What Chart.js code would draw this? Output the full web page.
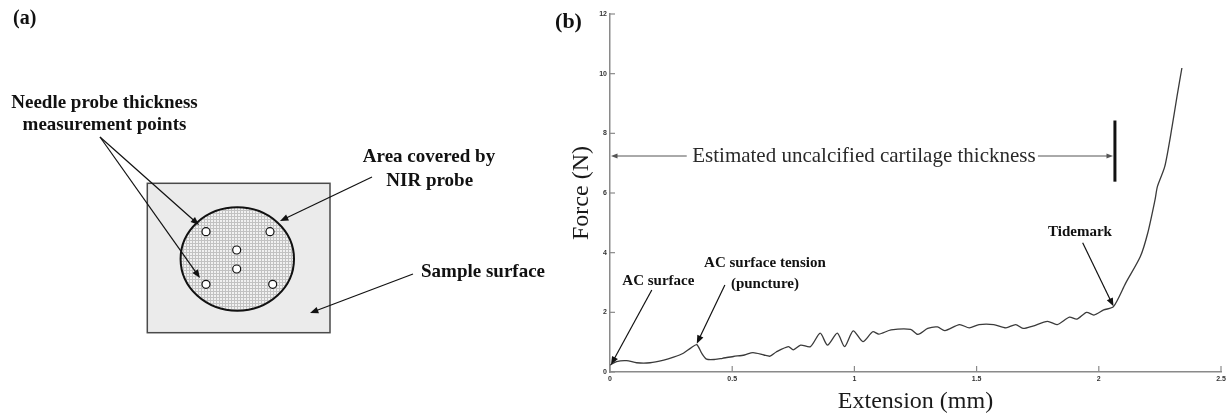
<!DOCTYPE html>
<html>
<head>
<meta charset="utf-8">
<script src="https://cdn.jsdelivr.net/npm/chart.js@4.4.1/dist/chart.umd.min.js"></script>
<style>
  html, body { margin: 0; padding: 0; background: #fff; }
  #wrap { position: relative; width: 1231px; height: 418px; overflow: hidden; }
  #panelA { position: absolute; left: 0; top: 0; }
  #panelB { position: absolute; left: 540px; top: 0; }
</style>
</head>
<body>
<div id="wrap">
  <canvas id="panelA" width="580" height="418"></canvas>
  <canvas id="panelB" width="691" height="418"></canvas>
</div>
<script>
// ---- panel (b) data : needle probe force vs extension ----
const extension = [0, 0.027, 0.068, 0.109, 0.164, 0.22, 0.26, 0.30, 0.33, 0.355, 0.375, 0.395, 0.43, 0.46,
  0.505, 0.55, 0.585, 0.63, 0.655, 0.68, 0.73, 0.75, 0.78, 0.82, 0.86, 0.89, 0.93, 0.96, 0.995, 1.035,
  1.075, 1.10, 1.15, 1.23, 1.26, 1.30, 1.34, 1.37, 1.43, 1.47, 1.51, 1.57, 1.62, 1.66, 1.69, 1.73, 1.79,
  1.83, 1.88, 1.91, 1.95, 1.98, 2.02, 2.06, 2.11, 2.17, 2.20, 2.23, 2.24, 2.27, 2.30, 2.32, 2.34];
const force = [0.23, 0.35, 0.38, 0.31, 0.31, 0.40, 0.50, 0.63, 0.80, 0.92, 0.63, 0.43, 0.42, 0.46,
  0.52, 0.57, 0.65, 0.57, 0.53, 0.67, 0.85, 0.74, 0.90, 0.85, 1.30, 0.90, 1.30, 0.85, 1.38, 1.02,
  1.35, 1.27, 1.41, 1.43, 1.26, 1.46, 1.51, 1.39, 1.59, 1.48, 1.59, 1.59, 1.48, 1.59, 1.46, 1.54, 1.70,
  1.59, 1.84, 1.77, 2.00, 1.91, 2.08, 2.19, 2.98, 3.87, 4.65, 5.77, 6.22, 6.89, 8.23, 9.24, 10.19];
const xTickValues = [0, 0.5, 1, 1.5, 2, 2.5];
const yTickValues = [0, 2, 4, 6, 8, 10, 12];

// ---- panel (a) : needle probe measurement points inside the NIR probe area ----
const probeX = [206, 270, 236.7, 236.7, 206, 272.7];
const probeY = [231.7, 231.7, 250, 269, 284.3, 284.3];

const serif = '"Liberation Serif", "Times New Roman", serif';
const sans = '"Liberation Sans", Arial, sans-serif';

function arrow(ctx, x1, y1, x2, y2, color, width, head) {
  const a = Math.atan2(y2 - y1, x2 - x1);
  const sp = 0.38;
  ctx.save();
  ctx.strokeStyle = color; ctx.fillStyle = color; ctx.lineWidth = width;
  ctx.beginPath();
  ctx.moveTo(x1, y1);
  ctx.lineTo(x2 - Math.cos(a) * head * 0.7, y2 - Math.sin(a) * head * 0.7);
  ctx.stroke();
  ctx.beginPath();
  ctx.moveTo(x2, y2);
  ctx.lineTo(x2 - head * Math.cos(a - sp), y2 - head * Math.sin(a - sp));
  ctx.lineTo(x2 - head * Math.cos(a + sp), y2 - head * Math.sin(a + sp));
  ctx.closePath();
  ctx.fill();
  ctx.restore();
}

function label(ctx, text, x, y, font, color, align) {
  ctx.save();
  ctx.font = font;
  ctx.fillStyle = color || '#111';
  ctx.textAlign = align || 'center';
  ctx.textBaseline = 'middle';
  ctx.fillText(text, x, y);
  ctx.restore();
}

function hatch(ctx) {
  const c = document.createElement('canvas');
  c.width = 3; c.height = 3;
  const g = c.getContext('2d');
  g.fillStyle = '#f1f1f1'; g.fillRect(0, 0, 3, 3);
  g.fillStyle = '#c2c2c2'; g.fillRect(0, 0, 3, 1); g.fillRect(0, 0, 1, 3);
  return ctx.createPattern(c, 'repeat');
}

// ---- panel (a) drawing ----
const diagram = {
  id: 'diagram',
  beforeDatasetsDraw(chart) {
    const { ctx, scales: { x, y } } = chart;
    const X = v => x.getPixelForValue(v), Y = v => y.getPixelForValue(v);
    ctx.save();
    // sample surface
    ctx.fillStyle = '#ebebeb';
    ctx.fillRect(X(147.3), Y(183.3), X(330) - X(147.3), Y(332.7) - Y(183.3));
    ctx.strokeStyle = '#4a4a4a'; ctx.lineWidth = 1.5;
    ctx.strokeRect(X(147.3), Y(183.3), X(330) - X(147.3), Y(332.7) - Y(183.3));
    // NIR probe area
    ctx.beginPath();
    ctx.ellipse(X(237.3), Y(259), 56.7, 51.7, 0, 0, Math.PI * 2);
    ctx.fillStyle = hatch(ctx);
    ctx.fill();
    ctx.strokeStyle = '#111'; ctx.lineWidth = 2;
    ctx.stroke();
    ctx.restore();
  },
  afterDatasetsDraw(chart) {
    const { ctx, scales: { x, y } } = chart;
    const X = v => x.getPixelForValue(v), Y = v => y.getPixelForValue(v);
    const bold = 'bold 19px ' + serif;
    label(ctx, '(a)', X(13), Y(19), 'bold 20px ' + serif, '#111', 'left');
    label(ctx, 'Needle probe thickness', X(104.5), Y(103), bold);
    label(ctx, 'measurement points', X(104.5), Y(125), bold);
    label(ctx, 'Area covered by', X(429), Y(157), bold);
    label(ctx, 'NIR probe', X(429.7), Y(181.5), bold);
    label(ctx, 'Sample surface', X(421), Y(272), bold, '#111', 'left');
    arrow(ctx, X(100), Y(137), X(199), Y(225), '#111', 1.2, 9);
    arrow(ctx, X(100), Y(137), X(200), Y(278), '#111', 1.2, 9);
    arrow(ctx, X(372), Y(177), X(280), Y(221), '#111', 1.2, 9);
    arrow(ctx, X(413), Y(274), X(310), Y(313), '#111', 1.2, 9);
  }
};

new Chart(document.getElementById('panelA'), {
  type: 'scatter',
  data: {
    datasets: [{
      data: probeX.map((v, i) => ({ x: v, y: probeY[i] })),
      pointRadius: 4,
      pointBackgroundColor: '#fff',
      pointBorderColor: '#111',
      pointBorderWidth: 1.2
    }]
  },
  options: {
    responsive: false,
    animation: false,
    devicePixelRatio: 1,
    layout: { padding: 0, autoPadding: false },
    scales: {
      x: { type: 'linear', min: 0, max: 580, display: false },
      y: { type: 'linear', min: 0, max: 418, reverse: true, display: false }
    },
    plugins: { legend: { display: false }, tooltip: { enabled: false } }
  },
  plugins: [diagram]
});

// ---- panel (b) annotations ----
const curveNotes = {
  id: 'curveNotes',
  afterDatasetsDraw(chart) {
    const { ctx, scales: { x, y } } = chart;
    const X = v => x.getPixelForValue(v), Y = v => y.getPixelForValue(v);
    // inward tick marks
    ctx.save();
    ctx.strokeStyle = '#8a8a8a'; ctx.lineWidth = 1.2;
    y.ticks.forEach(t => {
      ctx.beginPath(); ctx.moveTo(X(0), Y(t.value)); ctx.lineTo(X(0) + 5, Y(t.value)); ctx.stroke();
    });
    x.ticks.forEach(t => {
      ctx.beginPath(); ctx.moveTo(X(t.value), Y(0)); ctx.lineTo(X(t.value), Y(0) - 6); ctx.stroke();
    });
    ctx.restore();

    label(ctx, '(b)', 28.5, 22, 'bold 22px ' + serif);
    const note = 'bold 15px ' + serif;
    label(ctx, 'AC surface', X(0.198), Y(3.06), note);
    arrow(ctx, X(0.171), Y(2.75), X(0.004), Y(0.24), '#111', 1.2, 9);
    label(ctx, 'AC surface tension', X(0.634), Y(3.64), note);
    label(ctx, '(puncture)', X(0.634), Y(2.94), note);
    arrow(ctx, X(0.47), Y(2.92), X(0.355), Y(0.95), '#111', 1.2, 9);
    label(ctx, 'Tidemark', X(1.923), Y(4.68), note);
    arrow(ctx, X(1.934), Y(4.33), X(2.06), Y(2.2), '#111', 1.2, 9);

    label(ctx, 'Estimated uncalcified cartilage thickness', X(1.039), Y(7.22), '21px ' + serif, '#2a2a2a');
    arrow(ctx, X(0.314), Y(7.24), X(0.004), Y(7.24), '#555', 1, 7);
    arrow(ctx, X(1.751), Y(7.24), X(2.058), Y(7.24), '#555', 1, 7);
    ctx.save();
    ctx.strokeStyle = '#111'; ctx.lineWidth = 3;
    ctx.beginPath(); ctx.moveTo(X(2.066), Y(8.43)); ctx.lineTo(X(2.066), Y(6.38)); ctx.stroke();
    ctx.restore();
  }
};

const tickFont = { family: sans, size: 7, weight: 'bold' };

new Chart(document.getElementById('panelB'), {
  type: 'scatter',
  data: {
    datasets: [{
      data: extension.map((v, i) => ({ x: v, y: force[i] })),
      showLine: true,
      pointRadius: 0,
      borderColor: '#3a3a3a',
      borderWidth: 1.3,
      tension: 0.25
    }]
  },
  options: {
    responsive: false,
    animation: false,
    devicePixelRatio: 1,
    layout: { padding: { left: 0, right: 10, top: 14, bottom: 0 }, autoPadding: false },
    scales: {
      x: {
        type: 'linear', min: 0, max: 2.5,
        afterBuildTicks: s => { s.ticks = xTickValues.map(v => ({ value: v })); },
        afterFit: s => { s.height = 46; },
        grid: { display: true, drawOnChartArea: false, drawTicks: false },
        border: { display: true, color: '#8a8a8a', width: 1.5 },
        ticks: { font: tickFont, color: '#333', padding: 3, maxRotation: 0, callback: v => String(v) },
        title: { display: true, text: 'Extension (mm)', font: { family: serif, size: 24 }, color: '#1a1a1a', padding: { top: 0, bottom: 2 } }
      },
      y: {
        type: 'linear', min: 0, max: 12,
        afterBuildTicks: s => { s.ticks = yTickValues.map(v => ({ value: v })); },
        afterFit: s => { s.width = 70; },
        grid: { display: true, drawOnChartArea: false, drawTicks: false },
        border: { display: true, color: '#8a8a8a', width: 1.5 },
        ticks: { font: tickFont, color: '#333', padding: 3, callback: v => String(v) },
        title: { display: true, text: 'Force (N)', font: { family: serif, size: 24 }, color: '#1a1a1a', padding: { top: 27, bottom: 0 } }
      }
    },
    plugins: { legend: { display: false }, tooltip: { enabled: false } }
  },
  plugins: [curveNotes]
});
</script>
</body>
</html>
